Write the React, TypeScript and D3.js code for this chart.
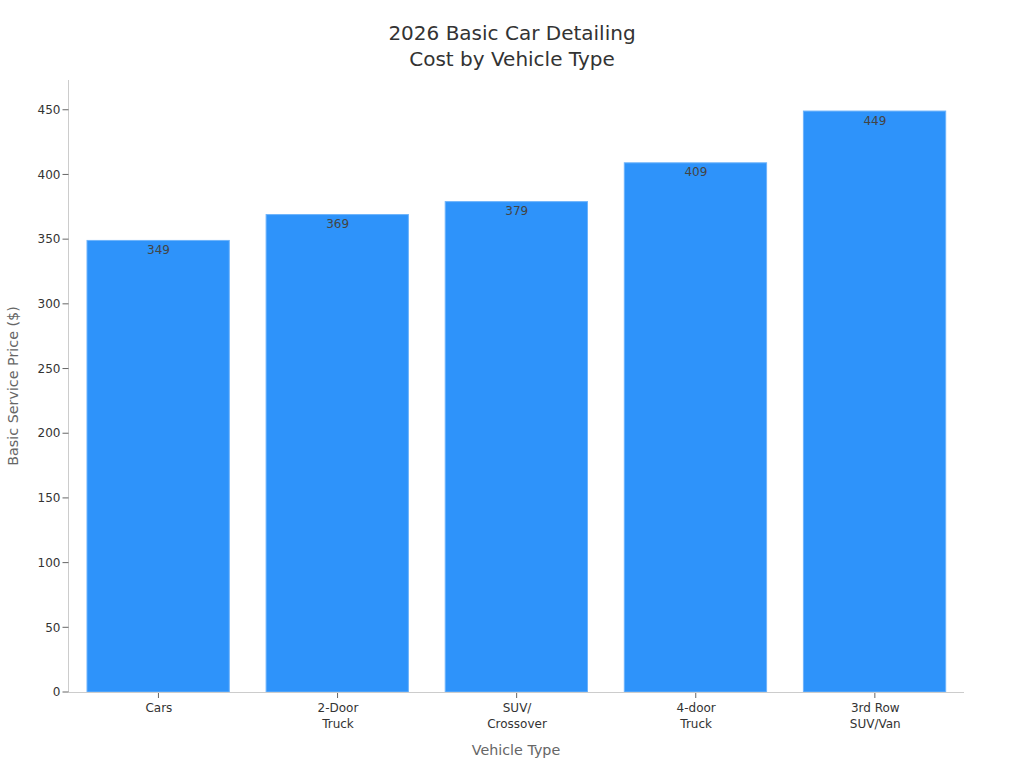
import React from "react";
import * as d3 from "d3";

const categories = ["Cars", "2-Door\nTruck", "SUV/\nCrossover", "4-door\nTruck", "3rd Row\nSUV/Van"];
const prices = [349, 369, 379, 409, 449];
const yTicks = [0, 50, 100, 150, 200, 250, 300, 350, 400, 450];
const titleLines = ["2026 Basic Car Detailing", "Cost by Vehicle Type"];

const width = 1024;
const height = 768;
const margin = { left: 68.5, right: 60, top: 80, bottom: 76 };
const font = "'DejaVu Sans', sans-serif";

const App: React.FC = () => {
  const x = d3
    .scaleBand<string>()
    .domain(categories)
    .range([margin.left, width - margin.right])
    .paddingInner(0.2)
    .paddingOuter(0.1);
  const y = d3
    .scaleLinear()
    .domain([0, 473])
    .range([height - margin.bottom, margin.top]);
  const baseY = y(0);

  return (
    <svg
      width={width}
      height={height}
      style={{ position: "absolute", left: 0, top: 0, background: "#fff" }}
      fontFamily={font}
    >
      {titleLines.map((t, i) => (
        <text key={t} x={512} y={40 + i * 26} textAnchor="middle" fontSize={20} fill="#333">
          {t}
        </text>
      ))}

      {categories.map((c, i) => (
        <g key={c}>
          <rect
            x={x(c)! + 0.6}
            y={y(prices[i])}
            width={x.bandwidth() - 1}
            height={baseY - y(prices[i])}
            fill="#2e93fa"
            stroke="#6db3fb"
            strokeWidth={1}
          />
          <text
            x={x(c)! + x.bandwidth() / 2 + 0.5}
            y={y(prices[i]) + 13.6}
            textAnchor="middle"
            fontSize={12}
            fill="#444"
          >
            {prices[i]}
          </text>
        </g>
      ))}

      <line x1={margin.left} x2={margin.left} y1={margin.top} y2={baseY} stroke="#ccc" />
      <line x1={margin.left} x2={width - margin.right} y1={baseY + 0.5} y2={baseY + 0.5} stroke="#ccc" />

      {yTicks.map((t) => (
        <g key={t} transform={`translate(0,${y(t)})`}>
          <line x1={margin.left - 6} x2={margin.left} stroke="#666" />
          <text x={margin.left - 8} dy="0.35em" textAnchor="end" fontSize={12} fill="#333">
            {t}
          </text>
        </g>
      ))}

      {categories.map((c) => {
        const cx = x(c)! + x.bandwidth() / 2 + 0.4;
        return (
          <g key={c} transform={`translate(${cx},0)`}>
            <line y1={baseY + 1} y2={baseY + 6} stroke="#666" />
            {c.split("\n").map((line, i) => (
              <text key={line} x={0.4} y={712 + i * 16} textAnchor="middle" fontSize={12} fill="#333">
                {line}
              </text>
            ))}
          </g>
        );
      })}

      <text x={516} y={755} textAnchor="middle" fontSize={14.3} fill="#666">
        Vehicle Type
      </text>
      <text
        transform={`translate(17.5,${386}) rotate(-90)`}
        textAnchor="middle"
        fontSize={14.3}
        fill="#666"
      >
        Basic Service Price ($)
      </text>
    </svg>
  );
};

export default App;
